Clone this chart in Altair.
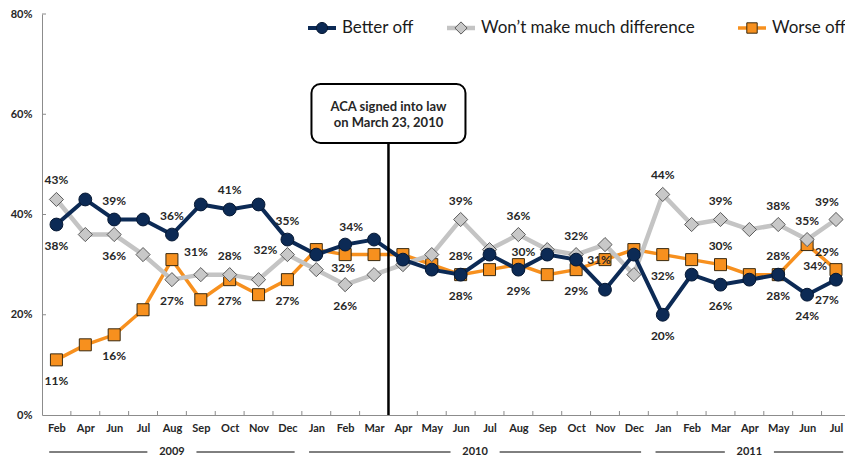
import altair as alt
import pandas as pd

# ---------------- data ----------------
months = ["Feb", "Apr", "Jun", "Jul", "Aug", "Sep", "Oct", "Nov", "Dec",
          "Jan", "Feb", "Mar", "Apr", "May", "Jun", "Jul", "Aug", "Sep", "Oct", "Nov", "Dec",
          "Jan", "Feb", "Mar", "Apr", "May", "Jun", "Jul"]
years = ["2009"] * 9 + ["2010"] * 12 + ["2011"] * 7

better_off = [38, 43, 39, 39, 36, 42, 41, 42, 35,
              32, 34, 35, 31, 29, 28, 32, 29, 32, 31, 25, 32,
              20, 28, 26, 27, 28, 24, 27]
wont_matter = [43, 36, 36, 32, 27, 28, 28, 27, 32,
               29, 26, 28, 30, 32, 39, 33, 36, 33, 32, 34, 28,
               44, 38, 39, 37, 38, 35, 39]
worse_off = [11, 14, 16, 21, 31, 23, 27, 24, 27,
             33, 32, 32, 32, 30, 28, 29, 30, 28, 29, 31, 33,
             32, 31, 30, 28, 28, 34, 29]

series_names = ["Better off", "Won\u2019t make much difference", "Worse off"]
series_values = [better_off, wont_matter, worse_off]

# which points carry a value label, and where the label sits
labels_better = [(0, "below"), (2, "above"), (4, "above"), (6, "above"), (8, "above"),
                 (10, "above_r"), (14, "above"), (16, "below"), (21, "below"), (23, "below"),
                 (25, "below"), (26, "below"), (27, "below_l")]
labels_wont = [(0, "above"), (2, "below"), (4, "below"), (6, "above"), (8, "left"),
               (10, "below"), (14, "above"), (16, "above"), (18, "above"), (21, "above"),
               (23, "above"), (25, "above"), (26, "above"), (27, "above_l")]
labels_worse = [(0, "below"), (2, "below"), (4, "right"), (6, "below"), (8, "below"),
                (10, "below_near"), (14, "below"), (16, "above_near"), (18, "below"),
                (19, "on"), (21, "below"), (23, "above"), (25, "above"), (26, "below_r"),
                (27, "above_l")]
series_labels = [labels_better, labels_wont, labels_worse]

event_text = ["ACA signed into law", "on March 23, 2010"]
event_pos = 11.5  # between Mar 2010 and Apr 2010

# ---------------- styles / layout ----------------
FONT = "Lato"
TXT = "#262626"
W, H = 803, 401
n = len(months)

styles = {
    "Better off": dict(line="#0c2a55", width=4, shape="circle", size=165,
                       fill="#0c2a55", stroke="#061833"),
    "Won\u2019t make much difference": dict(line="#c4c4c4", width=4.5, shape="diamond", size=200,
                                            fill="#c8c8c8", stroke="#5a5a5a"),
    "Worse off": dict(line="#f7901e", width=3.5, shape="square", size=144,
                      fill="#f7901e", stroke="#3a2a10"),
}
offsets = {"above": (0, -19), "above_r": (6, -18), "above_near": (5, -13),
           "above_l": (-9, -18), "below_l": (-9, 20),
           "below": (0, 21), "below_r": (8, 21), "below_near": (-2, 13),
           "right": (24, -8), "left": (-22, -5), "on": (-6, 0)}
legend_x = [280, 419, 710]   # pixel anchors of legend symbols
legend_y = 14

rows = []
for name, vals in zip(series_names, series_values):
    for i, v in enumerate(vals):
        rows.append(dict(idx=i, month=months[i], series=name, value=v))
df = pd.DataFrame(rows)

lab_rows = []
for name, vals, labs in zip(series_names, series_values, series_labels):
    for i, place in labs:
        lab_rows.append(dict(idx=i, value=vals[i], text=f"{vals[i]}%", place=place, series=name))
lab_df = pd.DataFrame(lab_rows)

x_scale = alt.Scale(domain=[-0.5, n - 1 + 0.312], nice=False, zero=False)
y_scale = alt.Scale(domain=[0, 80], nice=False, zero=True)

month_expr = "[" + ",".join(f"'{m}'" for m in months) + "][datum.value]"
x_axis = alt.Axis(values=list(range(n)), labelExpr=month_expr, ticks=False, grid=False,
                  title=None, domainColor="#8c8c8c", domainWidth=1, labelFont=FONT,
                  labelFontWeight="bold", labelFontSize=11, labelColor=TXT, labelPadding=7,
                  labelFlush=False, labelOverlap=False, labelBound=False)
y_axis = alt.Axis(values=[0, 20, 40, 60, 80], labelExpr="datum.value + '%'", ticks=False,
                  grid=False, title=None, domainColor="#8c8c8c", domainWidth=1,
                  labelFont=FONT, labelFontWeight="bold", labelFontSize=11, labelColor=TXT,
                  labelPadding=10, labelFlush=False)

X = alt.X("idx:Q", scale=x_scale, axis=x_axis)
Y = alt.Y("value:Q", scale=y_scale, axis=y_axis)

layers = []

# inward tick marks
xt = pd.DataFrame({"idx": [i + 0.5 for i in range(n - 1)]})
layers.append(alt.Chart(xt).mark_rule(color="#8c8c8c", strokeWidth=1).encode(
    x=X, y=alt.value(H), y2=alt.value(H - 4)))
yt = pd.DataFrame({"value": [20, 40, 60, 80]})
layers.append(alt.Chart(yt).mark_rule(color="#8c8c8c", strokeWidth=1).encode(
    y=Y, x=alt.value(0), x2=alt.value(4)))

# series: drawn Worse off, Won't, Better off (Better off on top)
for name in [series_names[2], series_names[1], series_names[0]]:
    st = styles[name]
    d = df[df.series == name]
    base = alt.Chart(d).encode(x=X, y=Y)
    layers.append(base.mark_line(color=st["line"], strokeWidth=st["width"]))
    layers.append(base.mark_point(shape=st["shape"], size=st["size"], filled=True,
                                  fill=st["fill"], stroke=st["stroke"], strokeWidth=1,
                                  opacity=1, fillOpacity=1))

# value labels
for code, (dx, dy) in offsets.items():
    sub = lab_df[lab_df.place == code]
    if len(sub) == 0:
        continue
    layers.append(alt.Chart(sub).mark_text(
        dx=dx, dy=dy, font=FONT, fontWeight="bold", fontSize=12, color=TXT,
        align="center", baseline="middle").encode(x=X, y=Y, text="text:N"))

# annotation
ann = pd.DataFrame({"idx": [event_pos]})
layers.append(alt.Chart(ann).mark_rule(color="black", strokeWidth=2.5).encode(
    x=X, y=alt.value(129), y2=alt.value(H)))
layers.append(alt.Chart(ann).mark_rect(fill="white", stroke="black", strokeWidth=2,
                                       cornerRadius=9, xOffset=-77, x2Offset=77).encode(
    x=X, x2="idx:Q", y=alt.value(70), y2=alt.value(129)))
layers.append(alt.Chart(ann).mark_text(font=FONT, fontWeight="bold", fontSize=13,
                                       lineHeight=16, color=TXT, align="center",
                                       baseline="middle").encode(
    x=X, y=alt.value(93), text=alt.value(event_text)))

# year bands below month labels
yr_rows = []
for yv in sorted(set(years)):
    idxs = [i for i, v in enumerate(years) if v == yv]
    s, e = idxs[0] - 0.25, idxs[-1] + 0.25
    m = (s + e) / 2
    yr_rows.append(dict(year=yv, s=s, e=e, idx=m, l1=m - 0.85, r1=m + 0.85))
yr = pd.DataFrame(yr_rows)
YR_Y = 438
layers.append(alt.Chart(yr).mark_rule(color="black", strokeWidth=1).encode(
    x=alt.X("s:Q", scale=x_scale, axis=x_axis), x2="l1:Q", y=alt.value(YR_Y)))
layers.append(alt.Chart(yr).mark_rule(color="black", strokeWidth=1).encode(
    x=alt.X("r1:Q", scale=x_scale, axis=x_axis), x2="e:Q", y=alt.value(YR_Y)))
layers.append(alt.Chart(yr).mark_text(font=FONT, fontWeight="bold", fontSize=11, color=TXT,
                                      align="center", baseline="middle").encode(
    x=X, y=alt.value(YR_Y), text="year:N"))

# legend (custom, line + marker)
for name, lx in zip(series_names, legend_x):
    st = styles[name]
    ld = pd.DataFrame({"lx": [lx], "a": [lx - 14], "b": [lx + 14], "t": [lx + 20], "name": [name]})
    layers.append(alt.Chart(ld).mark_rule(color=st["line"], strokeWidth=st["width"]).encode(
        x=alt.X("a:Q", scale=None, axis=None), x2="b:Q", y=alt.value(legend_y)))
    layers.append(alt.Chart(ld).mark_point(shape=st["shape"], size=st["size"] * 0.75,
                                           filled=True, fill=st["fill"], stroke=st["stroke"],
                                           strokeWidth=1, opacity=1).encode(
        x=alt.X("lx:Q", scale=None, axis=None), y=alt.value(legend_y)))
    layers.append(alt.Chart(ld).mark_text(font=FONT, fontSize=17, color="#1a1a1a",
                                          align="left", baseline="middle").encode(
        x=alt.X("t:Q", scale=None, axis=None), y=alt.value(legend_y), text="name:N"))

chart = alt.layer(*layers).properties(
    width=W, height=H,
    padding={"left": 34, "top": 6, "right": 0, "bottom": 45},
    autosize=alt.AutoSizeParams(type="none"),
    background="white",
).configure_view(stroke=None)

chart.save("out.html", embed_options={"renderer": "svg", "actions": False})
